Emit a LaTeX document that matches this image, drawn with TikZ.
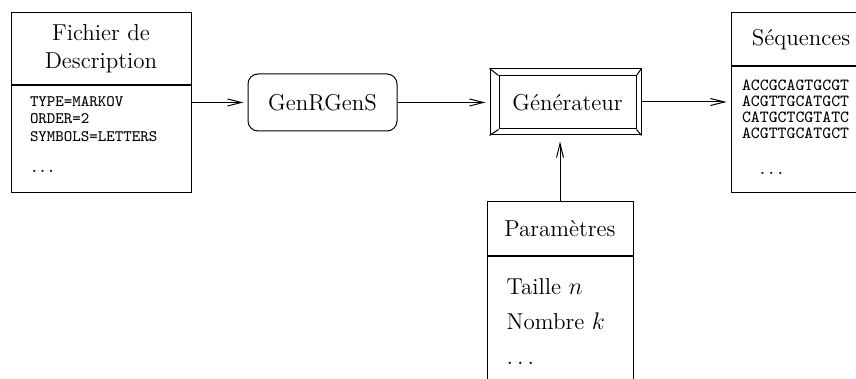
\documentclass[tikz,border=0pt]{standalone}
\usetikzlibrary{positioning,arrows.meta}

\begin{document}
\begin{tikzpicture}[x=1pt,y=1pt,line width=0.5pt,
  >={Straight Barb[length=7pt,width=3.5pt]},
  every node/.style={font=\fontsize{11.5}{14}\selectfont},
  flow/.style={->,shorten >=2pt},
  titlebox/.style={draw,minimum width=#1,inner sep=0pt},
  listing/.style={inner sep=0pt,align=left,font=\fontsize{8}{8.75}\selectfont\ttfamily}]
\clip (0,0) rectangle (428,-189.5);
% fichier de description
\node[titlebox=90pt,minimum height=36pt,align=center] (fichhead) at (50.5,-24.5) {Fichier de\\Description};
\node[titlebox=90pt,minimum height=53.5pt,below=0pt of fichhead] (fichbody) {};
\node[listing,below right=5pt and 9.5pt of fichbody.north west] (fichtext)
  {TYPE=MARKOV\\ORDER=2\\SYMBOLS=LETTERS\\[7pt]...};
% programmes
\node[draw,rounded corners=5pt,minimum width=74.5pt,minimum height=28.5pt] (genr) at (161.25,-51.25) {GenRGenS};
\node[draw,minimum width=75.5pt,minimum height=33pt] (gen) at (282.75,-51) {};
\node[draw,minimum width=68.5pt,minimum height=26.5pt] (geninner) at (283.75,-51.25) {G\'en\'erateur};
\draw (gen.north west) -- (geninner.north west);
\draw (gen.north east) -- (geninner.north east);
\draw (gen.south west) -- (geninner.south west);
\draw (gen.south east) -- (geninner.south east);
% sequences
\node[titlebox=70pt,minimum height=26.5pt] (seqhead) at (400.5,-19.75) {S\'equences};
\node[titlebox=70pt,minimum height=63pt,below=0pt of seqhead] (seqbody) {};
\node[listing,font=\fontsize{8.5}{8}\selectfont\ttfamily,below right=6.4pt and 5.5pt of seqbody.north west] (seqtext)
  {ACCGCAGTGCGT\\ACGTTGCATGCT\\CATGCTCGTATC\\ACGTTGCATGCT\\[10pt]\hspace*{8pt}...};
% parametres
\node[titlebox=73pt,minimum height=27pt] (paramhead) at (280,-114.5) {Param\`etres};
\node[titlebox=73pt,minimum height=75pt,below=0pt of paramhead] (parambody) {};
\node[inner sep=0pt,align=left,font=\fontsize{11.5}{17.5}\selectfont,below right=11pt and 9.85pt of parambody.north west] (paramtext)
  {Taille $n$\\Nombre $k$\\$\ldots$};
% fleches
\draw[flow] (fichbody.east |- genr.west) -- (genr.west);
\draw[flow] (genr.east) -- (genr.east -| gen.west);
\draw[flow] (gen.east) -- (gen.east -| seqbody.west);
\draw[flow,shorten >=3pt] (paramhead.north) -- (paramhead.north |- gen.south);
\end{tikzpicture}
\end{document}
